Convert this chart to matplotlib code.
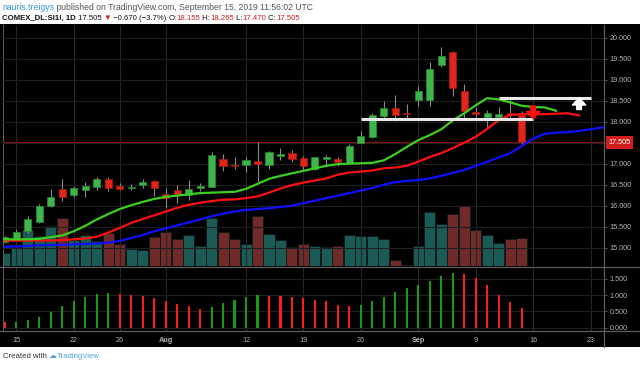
import numpy as np
import pandas as pd
import matplotlib
matplotlib.use("Agg")
import matplotlib.pyplot as plt
from matplotlib.lines import Line2D
from matplotlib.patches import Rectangle

symbol = "COMEX_DL:SI1!, 1D"
author = "nauris.treigys"
published = " published on TradingView.com, September 15, 2019 11:56:02 UTC"

dates = pd.bdate_range("2019-07-12", "2019-09-27")

opens = [15.14, 15.24, 15.40, 15.60, 16.00, 16.39, 16.25, 16.37, 16.44, 16.63,
         16.46, 16.41, 16.49, 16.59, 16.29, 16.37, 16.26, 16.42, 16.45, 17.10,
         16.96, 16.98, 17.06, 16.96, 17.19, 17.26, 17.13, 16.87, 17.11, 17.11,
         17.02, 17.50, 17.63, 18.14, 18.32, 18.21, 18.52, 18.52, 19.35, 19.65,
         18.72, 18.22, 18.10, 18.10, 18.20, 18.155]
highs = [15.28, 15.45, 15.76, 16.03, 16.39, 16.63, 16.47, 16.57, 16.68, 16.69,
         16.55, 16.52, 16.63, 16.61, 16.41, 16.49, 16.60, 16.55, 17.27, 17.23,
         17.15, 17.15, 17.51, 17.31, 17.38, 17.33, 17.19, 17.17, 17.21, 17.17,
         17.48, 17.77, 18.21, 18.50, 18.63, 18.41, 18.85, 19.42, 19.78, 19.69,
         18.90, 18.36, 18.28, 18.36, 18.57, 18.265]
lows = [15.12, 15.21, 15.36, 15.58, 15.98, 16.10, 16.21, 16.21, 16.37, 16.36,
        16.37, 16.37, 16.43, 16.23, 15.95, 16.06, 16.14, 16.36, 16.44, 16.83,
        16.87, 16.81, 16.57, 16.87, 17.09, 17.05, 16.85, 16.85, 16.98, 16.95,
        16.99, 17.49, 17.62, 18.06, 18.01, 18.04, 18.38, 18.38, 19.30, 18.60,
        18.09, 18.12, 17.88, 18.04, 18.12, 17.470]
closes = [15.25, 15.37, 15.69, 15.99, 16.20, 16.20, 16.41, 16.48, 16.63, 16.41,
          16.40, 16.44, 16.57, 16.41, 16.19, 16.28, 16.40, 16.47, 17.21, 16.95,
          16.94, 17.09, 16.99, 17.28, 17.22, 17.12, 16.95, 17.15, 17.16, 17.05,
          17.42, 17.66, 18.17, 18.33, 18.17, 18.19, 18.72, 19.25, 19.56, 18.81,
          18.26, 18.18, 18.20, 18.18, 18.175, 17.505]
volume_k = [27, 37, 72, 60, 81, 96, 52, 62, 50, 67, 44, 34, 32, 59, 68, 55, 63, 40, 96, 68,
            54, 45, 101, 64, 53, 39, 45, 40, 39, 40, 62, 60, 60, 54, 13, 2, 41, 108, 84, 105,
            120, 73, 63, 46, 54, 57]

# alligator lines (shifted forward 3 / 5 / 8 bars)
lips_green = [15.20, 15.20, 15.20, 15.21, 15.25, 15.29, 15.39, 15.52, 15.67, 15.80,
              15.92, 16.01, 16.09, 16.16, 16.21, 16.24, 16.27, 16.30, 16.31, 16.32,
              16.33, 16.40, 16.52, 16.64, 16.71, 16.77, 16.83, 16.89, 16.95, 16.99,
              17.00, 17.01, 17.02, 17.08, 17.23, 17.40, 17.56, 17.68, 17.82, 18.03,
              18.20, 18.39, 18.56, 18.53, 18.46, 18.38, 18.35, 18.34, 18.26]
teeth_red = [15.17, 15.17, 15.17, 15.17, 15.17, 15.18, 15.20, 15.22, 15.26, 15.36,
             15.47, 15.59, 15.68, 15.77, 15.86, 15.95, 16.02, 16.07, 16.11, 16.14,
             16.15, 16.18, 16.22, 16.31, 16.41, 16.49, 16.55, 16.60, 16.65, 16.74,
             16.79, 16.81, 16.84, 16.89, 16.91, 16.95, 17.05, 17.16, 17.25, 17.37,
             17.50, 17.64, 17.83, 18.04, 18.16, 18.18, 18.18, 18.18, 18.19, 18.20, 18.15]
jaw_blue = [15.02, 15.03, 15.04, 15.06, 15.06, 15.07, 15.08, 15.09, 15.10, 15.12,
            15.16, 15.23, 15.30, 15.39, 15.46, 15.53, 15.60, 15.67, 15.75, 15.81,
            15.86, 15.90, 15.92, 15.94, 15.97, 16.00, 16.06, 16.12, 16.18, 16.24,
            16.30, 16.36, 16.42, 16.50, 16.56, 16.59, 16.61, 16.65, 16.71, 16.78,
            16.85, 16.95, 17.04, 17.15, 17.25, 17.42, 17.60, 17.71, 17.74, 17.75,
            17.78, 17.82, 17.86, 17.90]

osc = [0.17, 0.19, 0.25, 0.33, 0.47, 0.66, 0.82, 0.94, 1.04, 1.06,
       1.04, 1.01, 0.99, 0.91, 0.81, 0.73, 0.66, 0.59, 0.64, 0.75,
       0.85, 0.94, 1.01, 0.99, 0.98, 0.96, 0.91, 0.85, 0.81, 0.71,
       0.66, 0.71, 0.81, 0.94, 1.09, 1.22, 1.32, 1.43, 1.59, 1.68,
       1.66, 1.54, 1.31, 1.01, 0.79, 0.61]

tick_dates = ["2019-07-15", "2019-07-22", "2019-07-26", "2019-08-01", "2019-08-12", "2019-08-19",
              "2019-08-26", "2019-09-02", "2019-09-09", "2019-09-16", "2019-09-23"]
tick_labels = ["15", "22", "26", "Aug", "12", "19", "26", "Sep", "9", "16", "23"]
price_ticks = [15.0, 15.5, 16.0, 16.5, 17.0, 17.5, 18.0, 18.5, 19.0, 19.5, 20.0]
osc_ticks = [0.0, 0.5, 1.0, 1.5]

# drawn levels: (price, from date, to date)
support = (18.057, "2019-08-26", "2019-09-16")
resist = (18.564, "2019-09-11", "2019-09-23")
up_arrow = ("2019-09-20", 18.29, 18.57)
down_arrow = ("2019-09-16", 18.37, 18.07)

# ---- layout helpers (pixels of the 640x367 picture) ----
W, H = 640, 367
def fx(x): return x / W
def fy(y): return 1 - y / H

idx = {d.strftime("%Y-%m-%d"): i for i, d in enumerate(dates)}
n = len(closes)
k = np.arange(n)
o, h, l, c = map(np.array, (opens, highs, lows, closes))
up = c >= o

GREEN, RED = "#3db54a", "#e0261c"
GRID = "#1f1f1f"
TXT = "#b4b4b4"
SEP = "#5e5e5e"
fams = ["Liberation Sans", "DejaVu Sans"]
plt.rcParams["font.family"] = fams

fig = plt.figure(figsize=(6.4, 3.67), dpi=100, facecolor="white")
fig.patches.append(Rectangle((0, fy(347)), 1, fy(24) - fy(347), transform=fig.transFigure,
                             facecolor="black", edgecolor="none", zorder=-10))

left, right = fx(3), fx(604)
rect_main = [left, fy(266), right - left, fy(25) - fy(266)]
vax = fig.add_axes(rect_main)
ax = fig.add_axes(rect_main, sharex=vax)
ax2 = fig.add_axes([left, fy(331), right - left, fy(267) - fy(331)], sharex=vax)
vax.set_zorder(0); ax.set_zorder(2); ax2.set_zorder(1)
vax.set_facecolor("black"); ax.patch.set_visible(False); ax2.set_facecolor("black")

x0 = (3 - 4.81) / 11.486
x1 = (604 - 4.81) / 11.486
ax.set_xlim(x0, x1)

# volume
vcol = np.where(up, "#1b5a55", "#702a2a")
vax.bar(k, volume_k, width=0.96, color=vcol, edgecolor="#0b1a18", linewidth=0.6)
vax.set_ylim(0, max(volume_k) * 241 / 60)
vax.axis("off")

# grid
ticks_k = [idx[d] for d in tick_dates]
for a in (ax, ax2):
    for t in ticks_k:
        a.axvline(t, color="#262626", lw=0.8, zorder=0)
for p in price_ticks:
    ax.axhline(p, color=GRID, lw=0.8, zorder=0)
for p in osc_ticks:
    ax2.axhline(p, color=GRID, lw=0.8, zorder=0)

# last-price line
ax.axhline(closes[-1], color="#7a1212", lw=0.9, zorder=1)

# candles
ax.vlines(k, l, h, color="#8a8a8a", lw=0.8, zorder=3)
body = np.maximum(np.abs(c - o), 0.012)
ax.bar(k, body, bottom=np.minimum(o, c), width=0.62,
       color=np.where(up, GREEN, RED), edgecolor=np.where(up, "#2a8a35", "#a81a12"),
       linewidth=0.5, zorder=4)

# alligator
ax.plot(np.arange(len(jaw_blue)), jaw_blue, color="#1010ff", lw=1.6, zorder=5)
ax.plot(np.arange(len(teeth_red)), teeth_red, color="#ff1010", lw=1.6, zorder=5)
ax.plot(np.arange(len(lips_green)), lips_green, color="#3ccf1f", lw=1.6, zorder=5)

# drawn levels and arrows
for lev, d0, d1 in (support, resist):
    ax.plot([idx[d0], idx[d1]], [lev, lev], color="#e8e8e8", lw=2.2, zorder=6,
            solid_capstyle="butt")
arrow_style = "simple,head_width=1.0,head_length=0.55,tail_width=0.36"
for (d, y_from, y_to), col in ((up_arrow, "white"), (down_arrow, "#ff1010")):
    ax.annotate("", xy=(idx[d], y_to), xytext=(idx[d], y_from),
                arrowprops=dict(arrowstyle=arrow_style, color=col, mutation_scale=9.5,
                                shrinkA=0, shrinkB=0), zorder=7)

ax.set_ylim(14.564, 20.302)
ax.set_yticks(price_ticks)
ax.set_yticklabels([f"{p:.3f}" for p in price_ticks])

# oscillator histogram: green when rising, red when falling
osc_a = np.array(osc)
ocol = ["#ff1c1c"] + ["#149c14" if osc_a[i] >= osc_a[i - 1] else "#ff1c1c" for i in range(1, n)]
ax2.bar(k, osc, width=0.18, color=ocol, zorder=3)
ax2.set_ylim(-0.102, 1.869)
ax2.set_yticks(osc_ticks)
ax2.set_yticklabels([f"{p:.3f}" for p in osc_ticks])

ax2.set_xticks(ticks_k)
ax2.set_xticklabels(tick_labels)
for lab in ax2.get_xticklabels():
    if lab.get_text() in ("Aug", "Sep"):
        lab.set_fontweight("bold")

for a in (ax, ax2):
    a.yaxis.tick_right()
    a.tick_params(axis="y", colors=SEP, labelcolor=TXT, labelsize=5.2, length=2, width=0.6, pad=2)
    for s in a.spines.values():
        s.set_visible(False)
ax.tick_params(axis="x", bottom=False, labelbottom=False)
ax2.tick_params(axis="x", colors=TXT, labelsize=5.2, length=0, pad=4)

# price label on the scale
ax.annotate(f"{closes[-1]:.3f}", xy=(1.0, closes[-1]), xycoords=("axes fraction", "data"),
            xytext=(3, 0), textcoords="offset points", ha="left", va="center",
            color="white", fontsize=5.2,
            bbox=dict(boxstyle="square,pad=0.35", facecolor="#d21e1e", edgecolor="none"),
            annotation_clip=False, zorder=10)

# separators
for y in (266.5, 331):
    fig.add_artist(Line2D([0, 1], [fy(y), fy(y)], color=SEP, lw=0.9))
fig.add_artist(Line2D([right, right], [fy(347), fy(25)], color=SEP, lw=0.9))
fig.add_artist(Line2D([left, left], [fy(331), fy(25)], color=SEP, lw=0.7))

# header text
renderer = fig.canvas.get_renderer()
def runs(x_px, y_px, parts, size):
    x = x_px
    for text, color, weight in parts:
        t = fig.text(fx(x), fy(y_px), text, color=color, fontsize=size, fontweight=weight,
                     ha="left", va="center", family=fams)
        x += t.get_window_extent(renderer=renderer).width

runs(2, 8, [(author, "#3396e0", "normal"), (published, "#555555", "normal")], 6.2)
chg = closes[-1] - closes[-2]
runs(2, 18, [(symbol + " ", "#111111", "bold"),
             (f"{closes[-1]:.3f} ", "#111111", "normal"),
             ("▼", "#d21e1e", "normal"),
             (f" \u2212{abs(chg):.3f} (\u2212{abs(chg) / closes[-2] * 100:.1f}%) ", "#111111", "normal"),
             ("O:", "#111111", "normal"), (f"{opens[-1]:.3f}", "#d21e1e", "normal"),
             (" H:", "#111111", "normal"), (f"{highs[-1]:.3f}", "#d21e1e", "normal"),
             (" L:", "#111111", "normal"), (f"{lows[-1]:.3f}", "#d21e1e", "normal"),
             (" C:", "#111111", "normal"), (f"{closes[-1]:.3f}", "#d21e1e", "normal")], 5.6)

runs(3, 357, [("Created with ", "#333333", "normal"), ("\u2601", "#4aa3df", "normal"),
              ("TradingView", "#4aa3df", "normal")], 5.6)

fig.savefig("out.png", dpi=100, facecolor="white")
